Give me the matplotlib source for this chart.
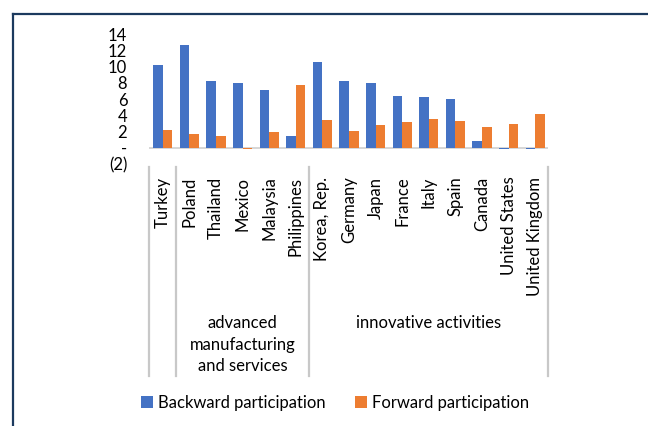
#!/usr/bin/env python3
"""
Backward and forward GVC participation by country, grouped bar chart
"""
import numpy as np
import matplotlib
matplotlib.use('Agg')
import matplotlib.pyplot as plt
from matplotlib.lines import Line2D

countries = ['Turkey', 'Poland', 'Thailand', 'Mexico', 'Malaysia',
             'Philippines', 'Korea, Rep.', 'Germany', 'Japan', 'France',
             'Italy', 'Spain', 'Canada', 'United States', 'United Kingdom']
backward = [10.2, 12.6, 8.2, 8.0, 7.1, 1.4, 10.6, 8.2, 8.0, 6.4,
            6.2, 6.0, 0.8, -0.1, -0.1]
forward = [2.2, 1.7, 1.5, -0.2, 1.9, 7.7, 3.4, 2.1, 2.8, 3.2,
           3.6, 3.3, 2.6, 2.9, 4.2]
groups = ['', 'advanced\nmanufacturing\nand services', 'innovative activities']
group_sizes = [1, 5, 9]
y_ticks = [-2, 0, 2, 4, 6, 8, 10, 12, 14]
y_tick_labels = ['(2)', '-', '2', '4', '6', '8', '10', '12', '14']
series = ['Backward participation', 'Forward participation']


def main():
    plt.rcParams['font.family'] = ['Lato', 'DejaVu Sans']
    plt.rcParams['font.size'] = 12
    fig = plt.figure(figsize=(6.48, 4.26), dpi=100)
    ax = fig.add_axes([0.2307, 0.615, 0.6157, 0.305])

    x = np.arange(len(countries))
    w = 0.36
    ax.bar(x - w / 2, backward, width=w, color='#4472C4', label=series[0])
    ax.bar(x + w / 2, forward, width=w, color='#ED7D31', label=series[1])
    ax.axhline(0, color='#d0d0d0', lw=1.2, zorder=0)

    ax.set_xlim(-0.5, len(countries) - 0.5)
    ax.set_ylim(-2, 14)
    ax.set_yticks(y_ticks)
    ax.set_yticklabels(y_tick_labels)
    ax.set_xticks(x)
    ax.set_xticklabels(countries, rotation=90, va='top')
    ax.tick_params(axis='x', length=0, pad=9)
    ax.tick_params(axis='y', length=0, pad=16)
    for s in ax.spines.values():
        s.set_visible(False)

    # group separators and group labels below the category labels
    trans = ax.get_xaxis_transform()
    edges = np.concatenate([[0], np.cumsum(group_sizes)]) - 0.5
    for e in edges:
        ax.plot([e, e], [-0.02, -1.63], transform=trans, color='#c8c8c8',
                lw=1.6, clip_on=False)
    for name, lo, hi in zip(groups, edges[:-1], edges[1:]):
        ax.text((lo + hi) / 2, -1.16, name, transform=trans, ha='center',
                va='top', linespacing=1.45)

    fig.legend(loc='center', bbox_to_anchor=(0.517, 0.054), ncol=2,
               frameon=False, handlelength=0.7, handleheight=0.7,
               handletextpad=0.3, columnspacing=1.8)

    # frame lines at top and left of the picture
    fig.add_artist(Line2D([13 / 648, 1], [1 - 14 / 426] * 2,
                          color='#1c3a5e', lw=1.6))
    fig.add_artist(Line2D([13 / 648] * 2, [0, 1 - 14 / 426],
                          color='#1c3a5e', lw=1.6))

    fig.savefig('out.png', dpi=100)


main()
